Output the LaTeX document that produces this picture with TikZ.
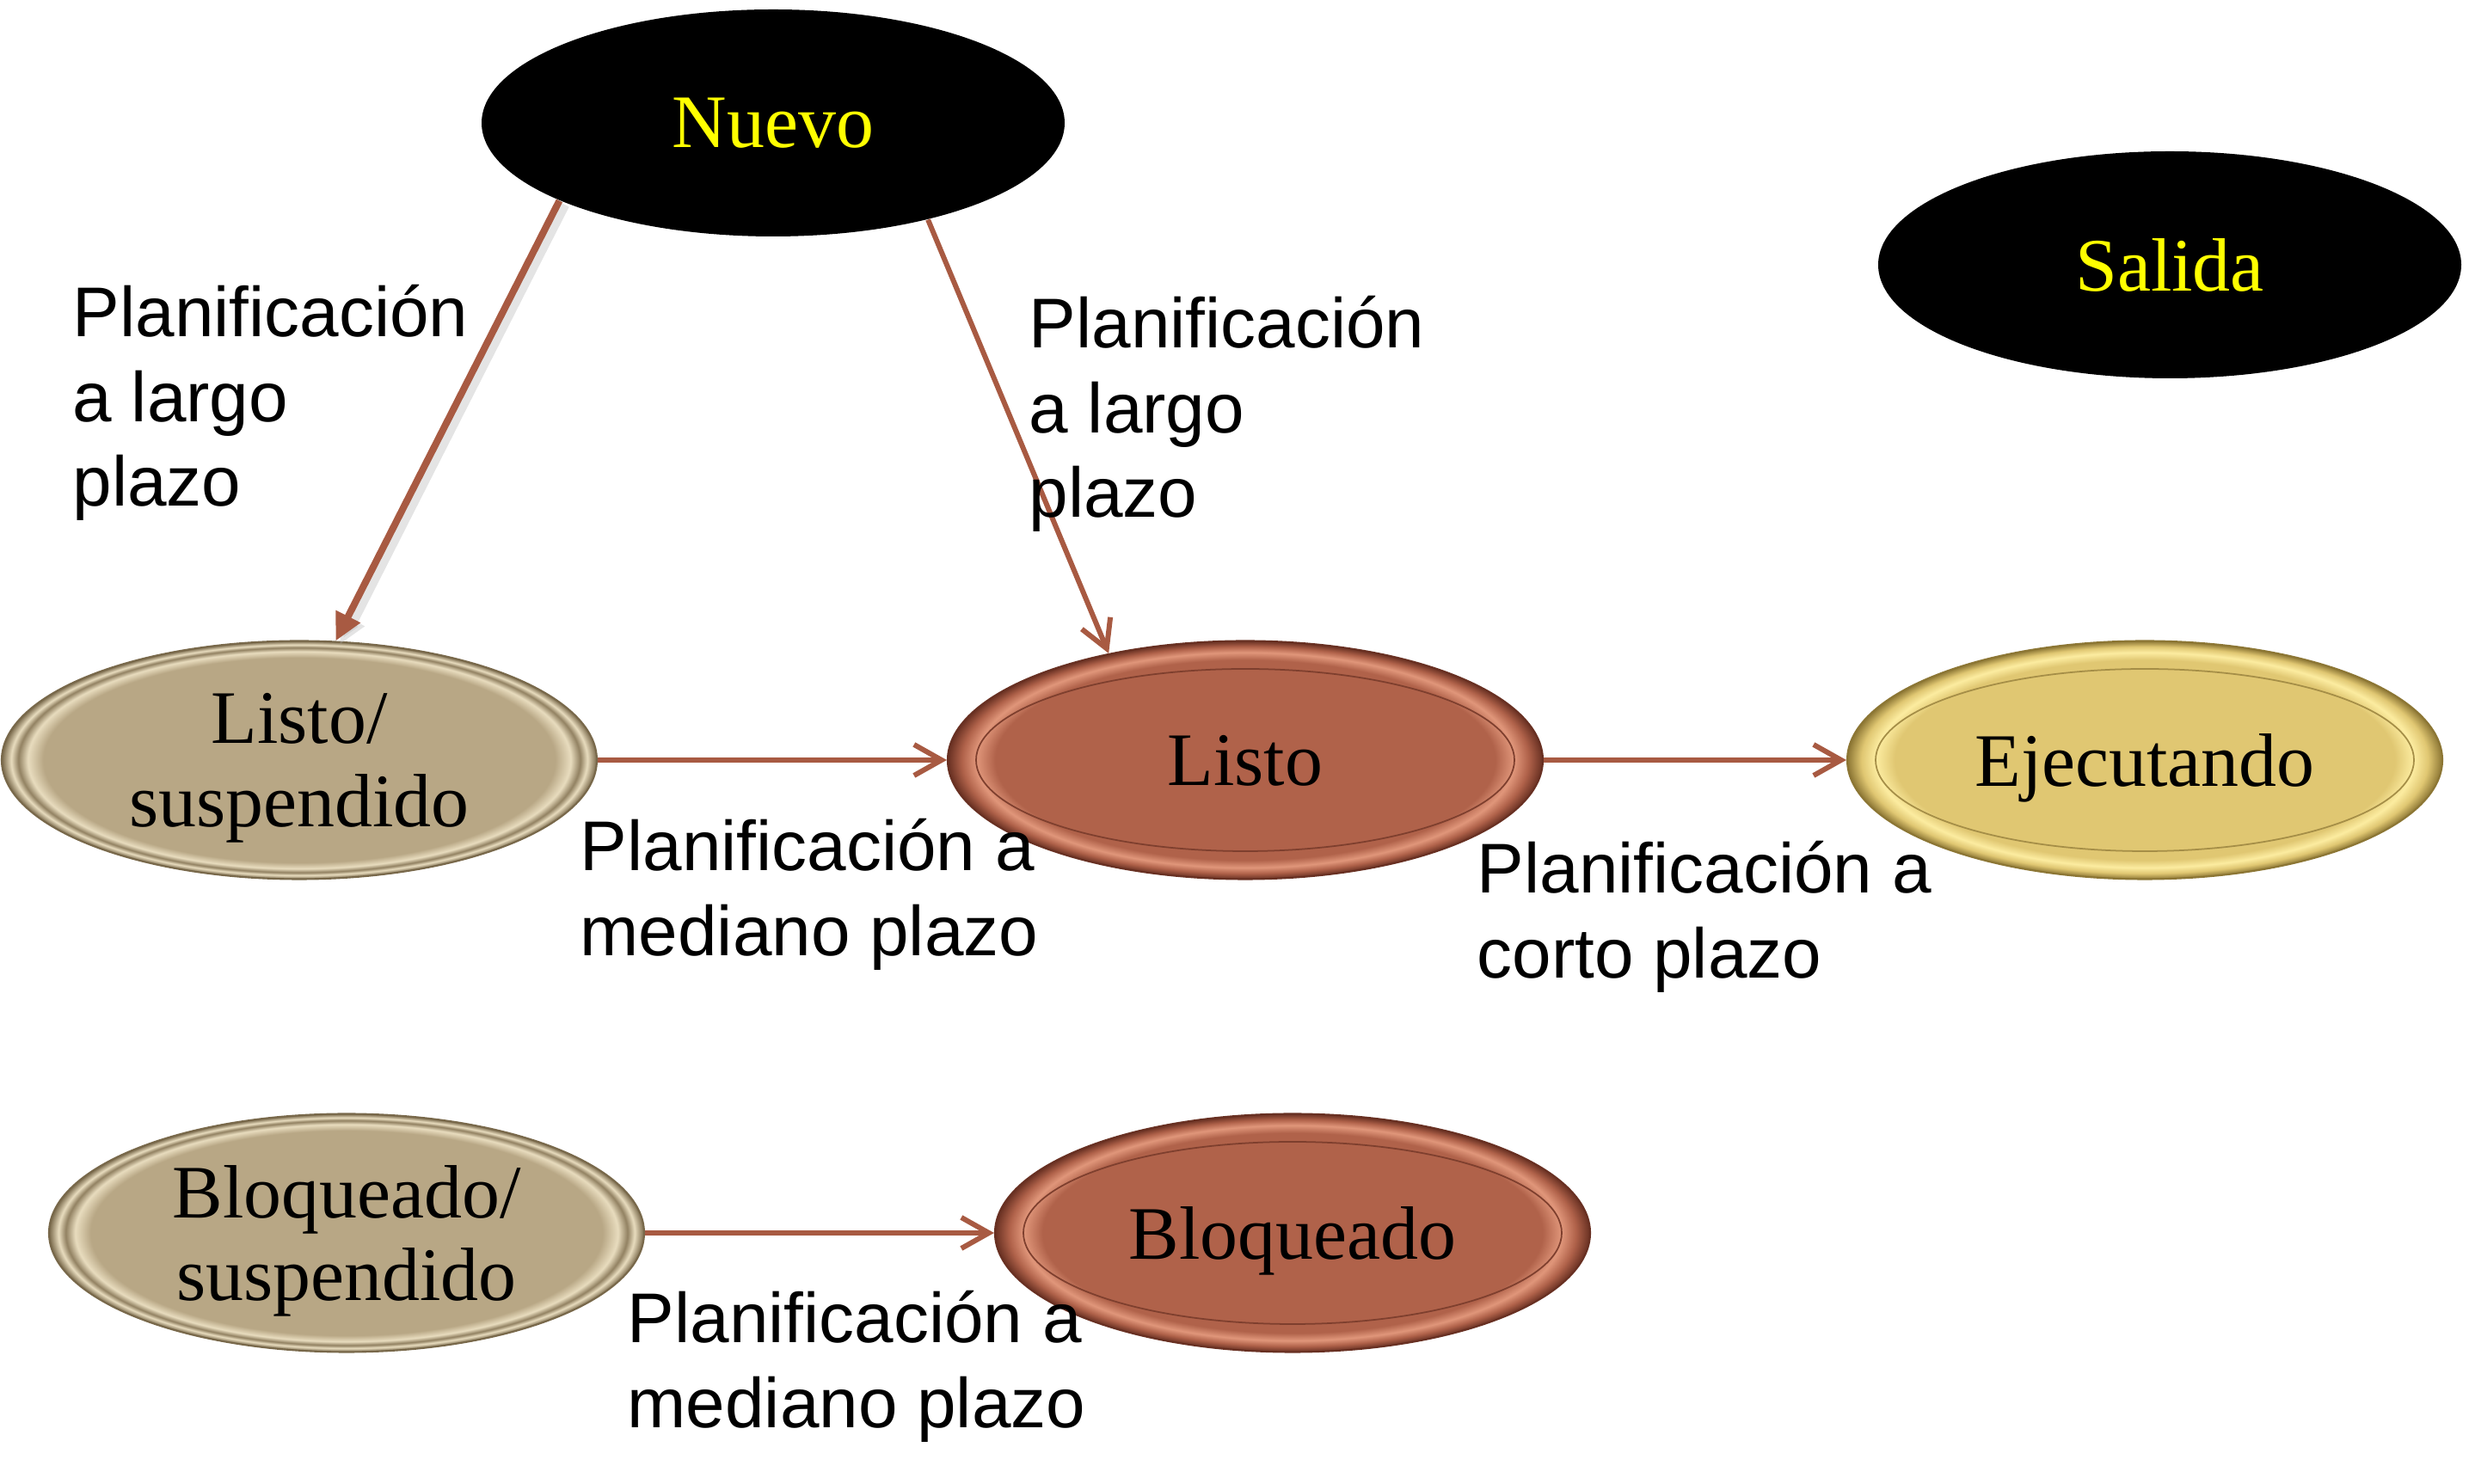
\documentclass[tikz,border=0pt]{standalone}
\usepackage{fontspec}
\setmainfont{Liberation Serif}
\newfontfamily\etiqfont{Liberation Sans}
\usepackage{tikz}
\usetikzlibrary{shapes.geometric}
\usetikzlibrary{arrows.meta}

\definecolor{flecha}{RGB}{168,90,66}
\definecolor{amarillo}{RGB}{255,255,0}
\definecolor{cafe}{RGB}{176,98,74}
\definecolor{cafeclaro}{RGB}{224,150,122}
\definecolor{cafeoscuro}{RGB}{104,48,34}
\definecolor{arena}{RGB}{184,167,133}
\definecolor{arenaclaro}{RGB}{232,220,190}
\definecolor{arenaoscuro}{RGB}{120,104,74}
\definecolor{oro}{RGB}{224,199,114}
\definecolor{oroclaro}{RGB}{252,236,160}
\definecolor{orooscuro}{RGB}{140,118,52}

\pgfdeclareradialshading{bordecafe}{\pgfpoint{0bp}{0bp}}{color(0bp)=(cafe); color(21bp)=(cafe); color(22.6bp)=(cafeclaro); color(23.8bp)=(cafe); color(25bp)=(cafeoscuro); color(50bp)=(cafeoscuro)}
\pgfdeclareradialshading{bordeoro}{\pgfpoint{0bp}{0bp}}{color(0bp)=(oro); color(21bp)=(oro); color(22.6bp)=(oroclaro); color(23.8bp)=(oro); color(25bp)=(orooscuro); color(50bp)=(orooscuro)}
\pgfdeclareradialshading{bordearena}{\pgfpoint{0bp}{0bp}}{color(0bp)=(arena); color(21.5bp)=(arena); color(22.8bp)=(arenaclaro); color(23.6bp)=(arenaoscuro!60!arena); color(24.2bp)=(arenaclaro); color(25bp)=(arenaoscuro); color(50bp)=(arenaoscuro)}

\newcommand\estfont{\fontsize{25}{27.5}\selectfont}
\newcommand\etiq{\etiqfont\fontsize{23.3}{28}\selectfont}

\tikzset{
  estado/.style={shape=ellipse, minimum width=6.92cm, minimum height=2.77cm, inner sep=0pt, text depth=0pt, align=center, font=\estfont},
  negro/.style={shape=ellipse, minimum width=6.78cm, minimum height=2.64cm, inner sep=0pt, fill=black, text=amarillo, font=\estfont},
  listocolor/.style={estado, shading=bordecafe, draw=cafeoscuro, line width=0.6pt},
  orocolor/.style={estado, shading=bordeoro, draw=orooscuro, line width=0.6pt},
  arenacolor/.style={estado, shading=bordearena, draw=arenaoscuro, line width=0.6pt},
  lineainterna/.style={line width=0.5pt},
  etiqueta/.style={anchor=north west, inner sep=0pt, align=left, font=\etiq},
  transicion/.style={draw=flecha, line width=1.7pt, -{Straight Barb[length=0.32cm, width=0.36cm, line width=1.7pt]}},
  transgruesa/.style={draw=flecha, line width=2.3pt, -{Triangle[length=0.32cm, width=0.3cm]},
    preaction={draw=black!30, opacity=0.35, line width=4pt, transform canvas={shift={(0.05,-0.04)}}}}
}

\begin{document}
\begin{tikzpicture}
      \useasboundingbox (0,0) rectangle (28.71,17.26);
      \node (nuevo) [negro] at (8.99,15.83) {Nuevo};
      \node (salida) [negro] at (25.23,14.18) {Salida};
      \node (lsusp) [arenacolor] at (3.48,8.42) {Listo/\\suspendido};
      \node (listo) [listocolor] at (14.48,8.42) {Listo};
      \node (ejec) [orocolor] at (24.94,8.42) {Ejecutando};
      \node (bsusp) [arenacolor] at (4.03,2.92) {Bloqueado/\\suspendido};
      \node (bloq) [listocolor] at (15.03,2.92) {Bloqueado};
      %% lineas interiores
      \draw [lineainterna, draw=cafeoscuro!70!cafe] (listo.center) ellipse [x radius=3.13cm, y radius=1.06cm];
      \draw [lineainterna, draw=orooscuro!70!oro] (ejec.center) ellipse [x radius=3.13cm, y radius=1.06cm];
      \draw [lineainterna, draw=cafeoscuro!70!cafe] (bloq.center) ellipse [x radius=3.13cm, y radius=1.06cm];
      %% transiciones
      \draw [transgruesa] (nuevo.200.8) -- (lsusp.73);
      \draw [transicion] (nuevo.328.8) -- (listo.142.5);
      \draw [transicion] (lsusp.east) -- (listo.west);
      \draw [transicion] (listo.east) -- (ejec.west);
      \draw [transicion] (bsusp.east) -- (bloq.west);
      %% etiquetas
      \node (e1) [etiqueta] at (0.84,13.95) {Planificación\\a largo\\plazo};
      \node (e2) [etiqueta] at (11.96,13.82) {Planificación\\a largo\\plazo};
      \node (e3) [etiqueta] at (6.74,7.74) {Planificación a\\mediano plazo};
      \node (e4) [etiqueta] at (17.17,7.48) {Planificación a\\corto plazo};
      \node (e5) [etiqueta] at (7.29,2.25) {Planificación a\\mediano plazo};
    \end{tikzpicture}
\end{document}
